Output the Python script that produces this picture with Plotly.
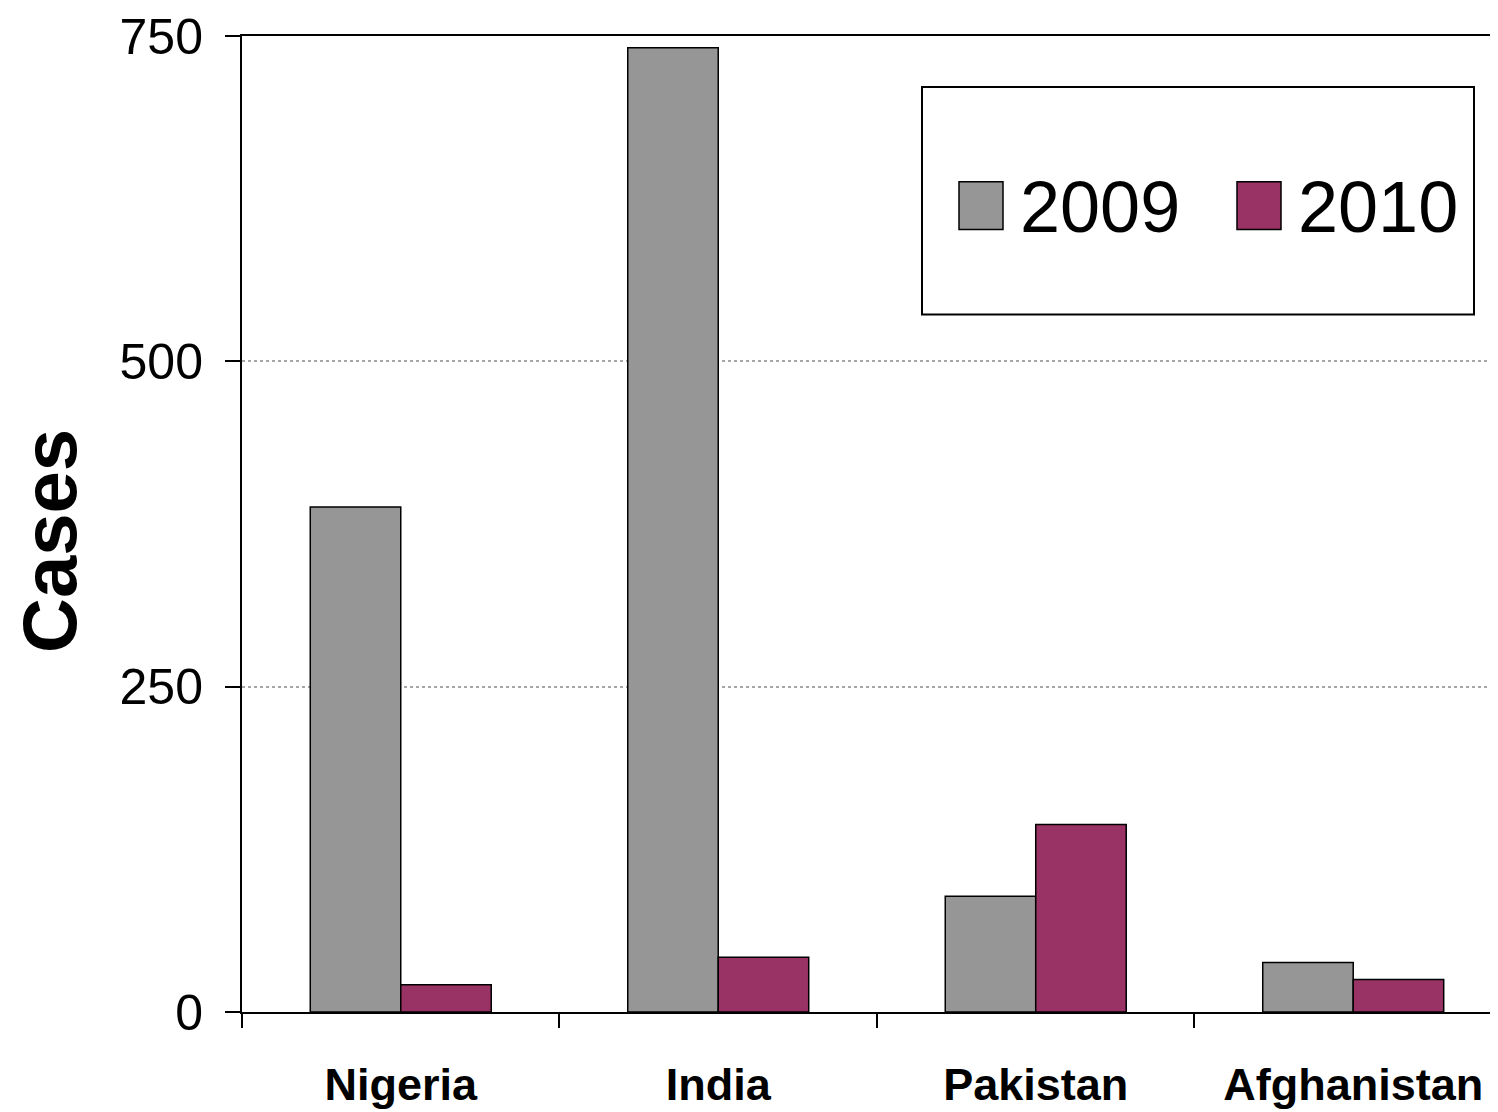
import plotly.graph_objects as go

countries = ["Nigeria", "India", "Pakistan", "Afghanistan"]
cases_2009 = [388, 741, 89, 38]
cases_2010 = [21, 42, 144, 25]
y_ticks = [0, 250, 500, 750]
series_names = ["2009", "2010"]
series_colors = ["#969696", "#993366"]

fig = go.Figure()
for name, vals, col in zip(series_names, [cases_2009, cases_2010], series_colors):
    fig.add_trace(go.Bar(
        x=countries, y=vals, name=name,
        marker=dict(color=col, line=dict(color="black", width=1.5)),
        showlegend=False,
    ))

L, T, PW, PH = 234, 26, 1256, 978
fig.update_layout(
    width=1490, height=1104,
    margin=dict(l=L, r=0, t=T, b=1104 - T - PH),
    paper_bgcolor="white", plot_bgcolor="white",
    barmode="group", bargap=0.43, bargroupgap=0,
    font=dict(family="Liberation Sans, Arial, sans-serif", color="black"),
)
fig.update_xaxes(
    range=[-0.5, 3.456],
    showline=True, linecolor="black", linewidth=2, mirror=True,
    ticks="outside", ticklen=14, tickwidth=2, tickcolor="black",
    tickson="boundaries",
    tickfont=dict(size=45, family="Liberation Sans, Arial, sans-serif"),
    tickvals=countries,
    ticktext=[f"<b>{c}</b>" for c in countries],
    ticklabelstandoff=32,
    ticklabeloverflow="allow",
    showgrid=False,
)
fig.update_yaxes(
    range=[0, 750],
    tickvals=y_ticks,
    showline=True, linecolor="black", linewidth=2,
    ticks="outside", ticklen=15, tickwidth=2, tickcolor="black",
    tickfont=dict(size=50),
    ticklabelstandoff=12,
    ticklabeloverflow="allow",
    showgrid=True, gridcolor="#a6a6a6", griddash="dot", gridwidth=2,
    zeroline=False,
)

def fx(x):
    return (x - 8 - L) / PW
def fy(y):
    return (T + PH - (y - 8)) / PH

# y-axis title
fig.add_annotation(xref="paper", yref="paper", x=fx(50), y=fy(540),
                   xanchor="center", yanchor="middle", showarrow=False,
                   textangle=-90, text="<b>Cases</b>",
                   font=dict(size=76, color="black"))

# custom legend (box, swatches, labels)
fig.add_shape(type="rect", xref="paper", yref="paper",
              x0=fx(922), x1=fx(1474), y0=fy(313), y1=fy(85),
              line=dict(color="black", width=2), fillcolor="white", layer="above")
sw = [(959, 1003), (1237, 1281)]
tx = [1018, 1296]
for (a, b), t, name, col in zip(sw, tx, series_names, series_colors):
    fig.add_shape(type="rect", xref="paper", yref="paper",
                  x0=fx(a), x1=fx(b), y0=fy(228), y1=fy(180),
                  line=dict(color="black", width=1.5), fillcolor=col, layer="above")
    fig.add_annotation(xref="paper", yref="paper",
                       x=fx(t), y=fy(205),
                       xanchor="left", yanchor="middle", showarrow=False,
                       text=name, font=dict(size=72, color="black"))

fig.write_html("out.html")
